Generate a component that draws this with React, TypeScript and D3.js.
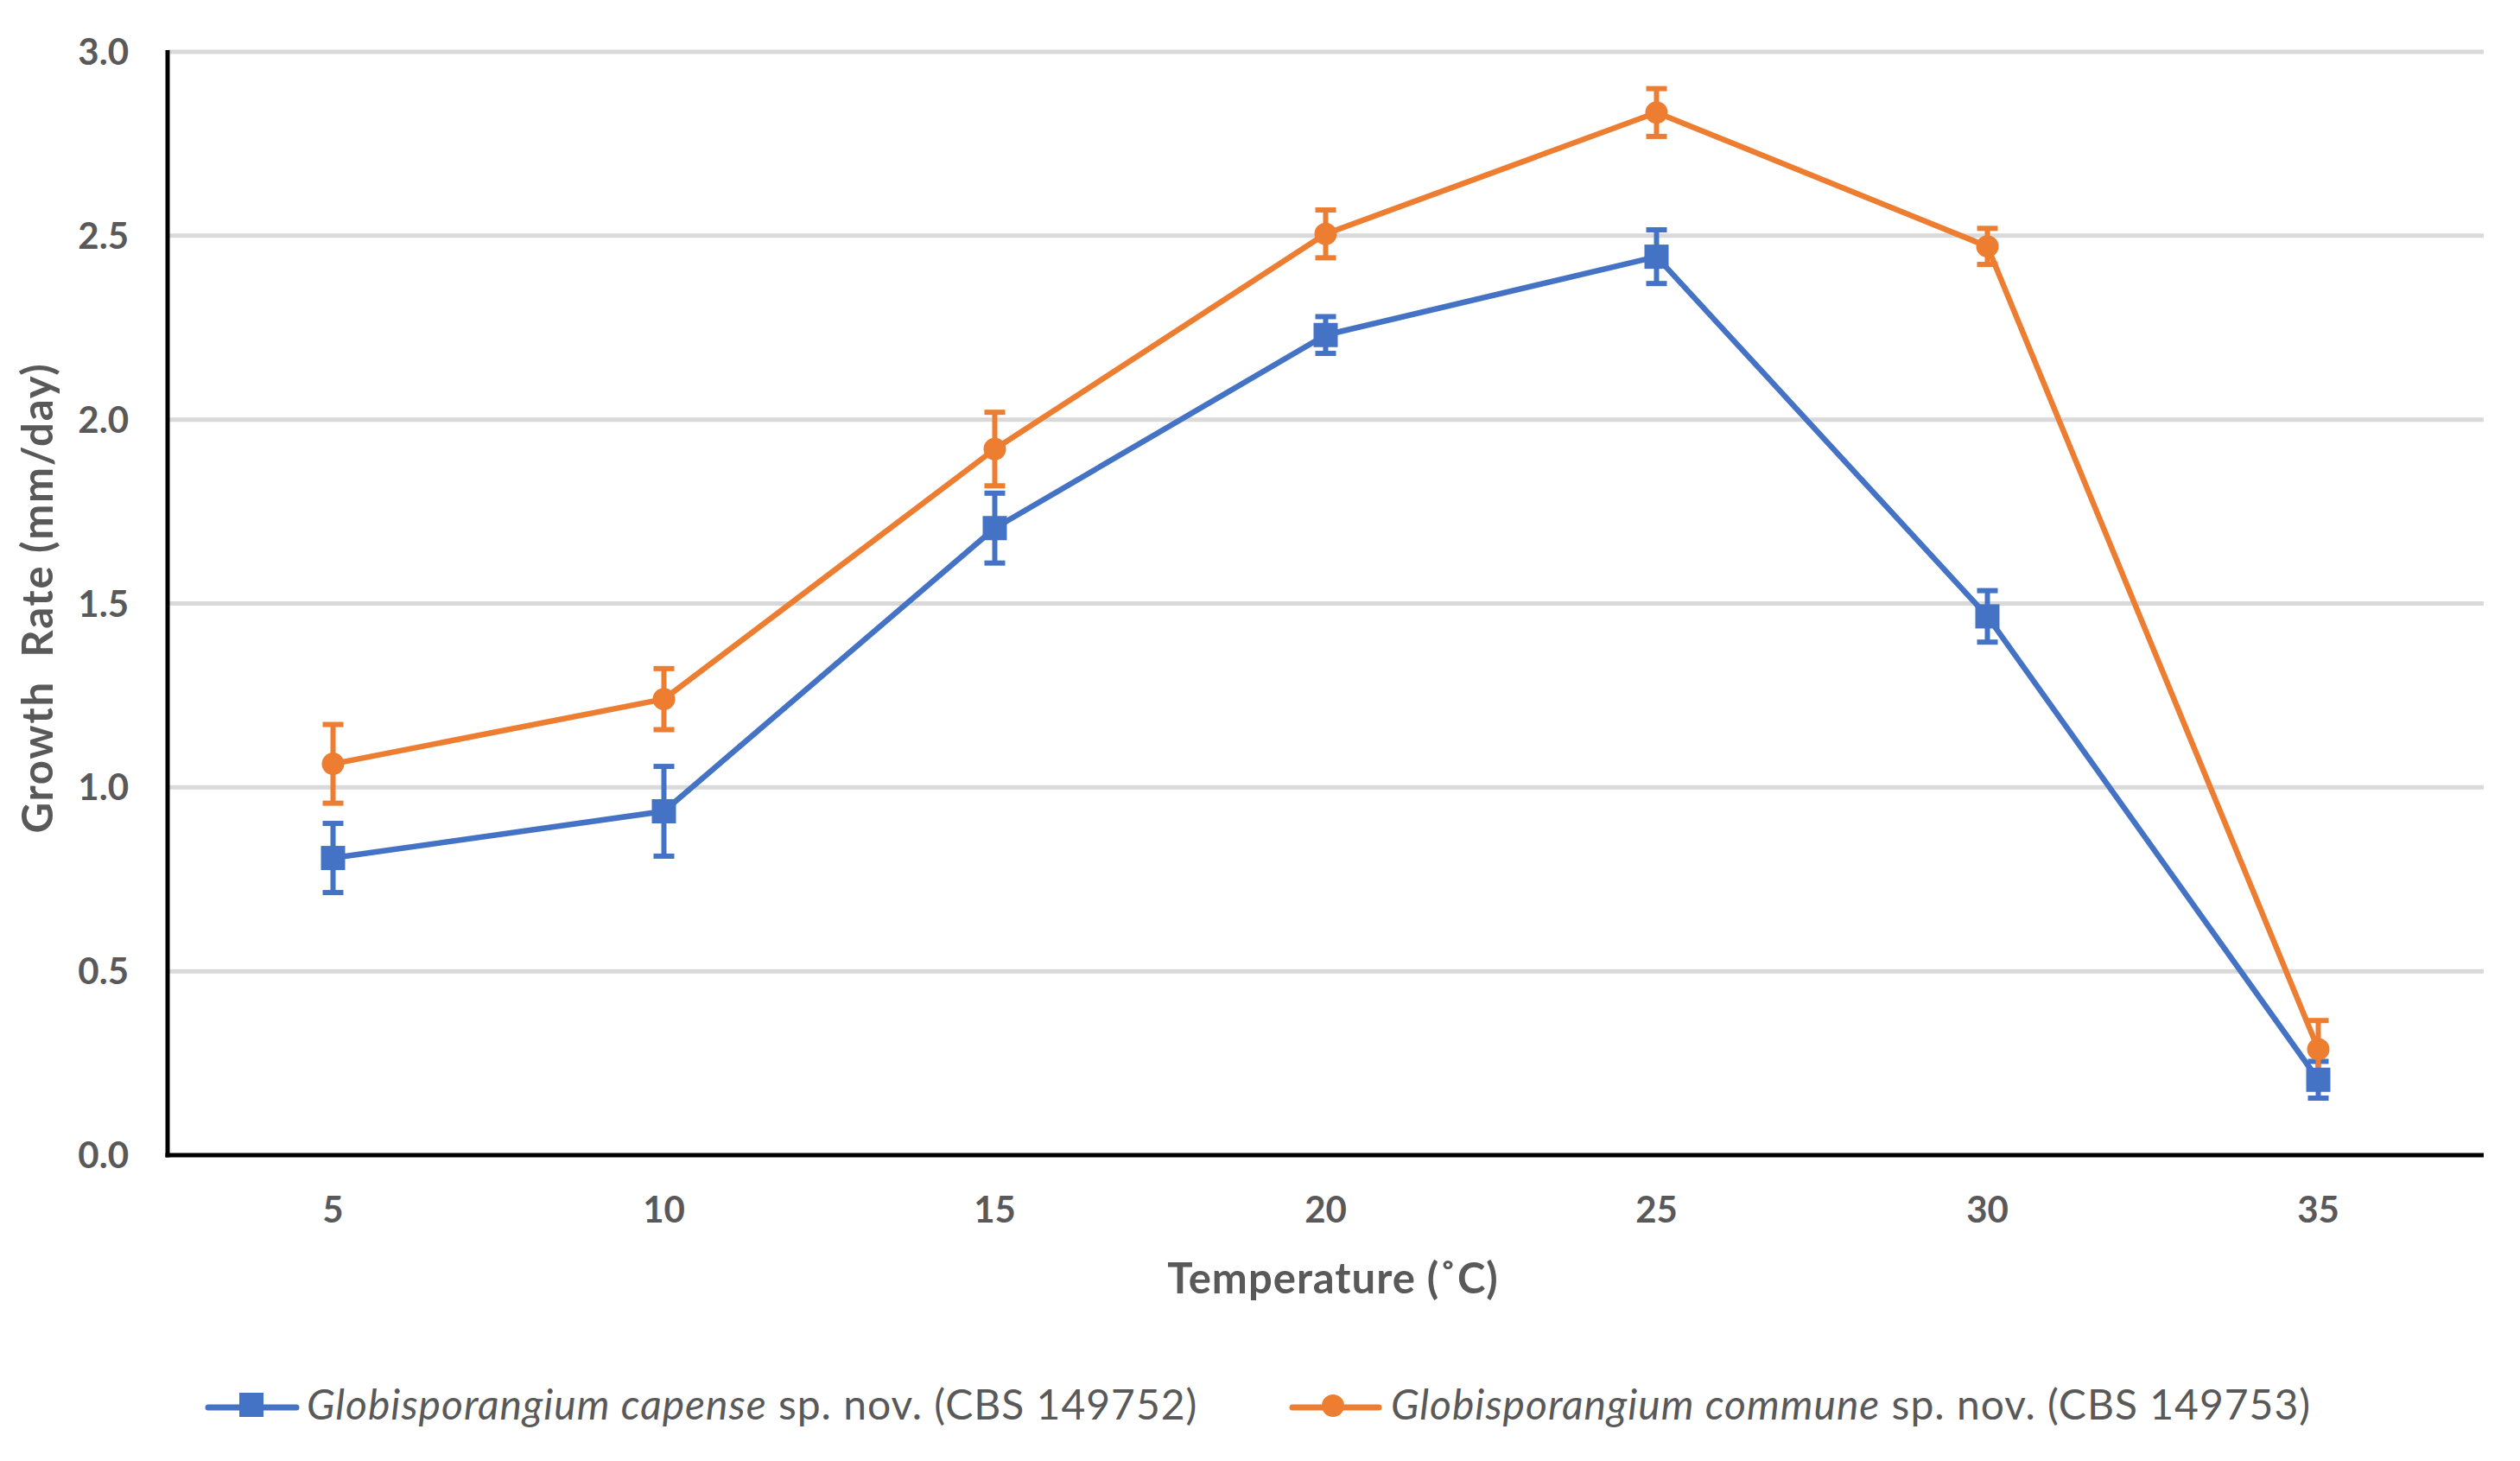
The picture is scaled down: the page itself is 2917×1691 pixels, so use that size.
import React from 'react';
import * as d3 from 'd3';

const temperatures = ['5', '10', '15', '20', '25', '30', '35'];
const capenseRate = [0.808, 0.935, 1.705, 2.23, 2.443, 1.465, 0.205];
const capenseErr = [0.094, 0.122, 0.095, 0.05, 0.073, 0.07, 0.05];
const communeRate = [1.064, 1.24, 1.92, 2.505, 2.835, 2.471, 0.288];
const communeErr = [0.107, 0.083, 0.1, 0.065, 0.065, 0.049, 0.078];
const yTicks = [0, 0.5, 1.0, 1.5, 2.0, 2.5, 3.0];

const BLUE = '#4472C4';
const ORANGE = '#ED7D31';
const GREY = '#595959';
const FONT = 'Lato, "Open Sans", sans-serif';

const W = 2917;
const H = 1691;
const left = 194;
const right = 2875;
const top = 60;
const bottom = 1337;

export default function App() {
  const x = d3.scaleBand<string>().domain(temperatures).range([left, right]);
  const y = d3.scaleLinear().domain([0, 3]).range([bottom, top]);
  const cx = (t: string) => (x(t) as number) + x.bandwidth() / 2;

  const line = d3
    .line<number>()
    .x((_, i) => cx(temperatures[i]))
    .y((d) => y(d));

  const series = [
    { name: 'capense', vals: capenseRate, err: capenseErr, color: BLUE },
    { name: 'commune', vals: communeRate, err: communeErr, color: ORANGE },
  ];

  const errBars = (s: typeof series[0]) =>
    s.vals.map((v, i) => {
      const xc = cx(temperatures[i]);
      const y1 = y(v + s.err[i]);
      const y2 = y(v - s.err[i]);
      return (
        <g key={s.name + 'e' + i} stroke={s.color} strokeWidth={6}>
          <line x1={xc} x2={xc} y1={y1} y2={y2} />
          <line x1={xc - 12} x2={xc + 12} y1={y1} y2={y1} />
          <line x1={xc - 12} x2={xc + 12} y1={y2} y2={y2} />
        </g>
      );
    });

  const squareMarker = (xc: number, yc: number, key: string, size = 28) => (
    <rect key={key} x={xc - size / 2} y={yc - size / 2} width={size} height={size} fill={BLUE} />
  );
  const circleMarker = (xc: number, yc: number, key: string, r = 13) => (
    <circle key={key} cx={xc} cy={yc} r={r} fill={ORANGE} />
  );

  return (
    <svg
      width={W}
      height={H}
      viewBox={`0 0 ${W} ${H}`}
      style={{ position: 'absolute', left: 0, top: 0, background: '#fff' }}
    >
      <rect x={0} y={0} width={W} height={H} fill="#fff" />
      {/* gridlines */}
      {yTicks
        .filter((t) => t > 0)
        .map((t) => (
          <line key={'g' + t} x1={left} x2={right} y1={y(t)} y2={y(t)} stroke="#D9D9D9" strokeWidth={5} />
        ))}
      {/* y tick labels */}
      {yTicks.map((t) => (
        <text
          key={'yt' + t}
          x={149}
          y={y(t)}
          dy="0.36em"
          textAnchor="end"
          fontFamily={FONT}
          fontWeight={700}
          fontSize={42}
          fill={GREY}
        >
          {d3.format('.1f')(t)}
        </text>
      ))}
      {/* x tick labels */}
      {temperatures.map((t) => (
        <text
          key={'xt' + t}
          x={cx(t)}
          y={1415}
          textAnchor="middle"
          fontFamily={FONT}
          fontWeight={700}
          fontSize={42}
          fill={GREY}
        >
          {t}
        </text>
      ))}
      {/* axes */}
      <line x1={left} x2={left} y1={top - 2} y2={bottom + 2.5} stroke="#000" strokeWidth={5} />
      <line x1={left - 2.5} x2={right} y1={bottom} y2={bottom} stroke="#000" strokeWidth={5} />
      {/* axis titles */}
      <text
        x={1543}
        y={1497}
        textAnchor="middle"
        fontFamily={FONT}
        fontWeight={700}
        fontSize={49}
        letterSpacing={1}
        fill={GREY}
      >
        Temperature (˚C)
      </text>
      <text
        transform={`translate(61, 692) rotate(-90)`}
        textAnchor="middle"
        fontFamily={FONT}
        fontWeight={700}
        fontSize={49}
        letterSpacing={1.8}
        fill={GREY}
        style={{ whiteSpace: 'pre' }}
      >
        {'Growth  Rate (mm/day)'}
      </text>
      {/* lines */}
      {series.map((s) => (
        <path
          key={s.name + 'line'}
          d={line(s.vals) as string}
          fill="none"
          stroke={s.color}
          strokeWidth={6.5}
          strokeLinejoin="round"
        />
      ))}
      {/* error bars */}
      {errBars(series[0])}
      {errBars(series[1])}
      {/* markers */}
      {communeRate.map((v, i) => circleMarker(cx(temperatures[i]), y(v), 'om' + i))}
      {capenseRate.map((v, i) => squareMarker(cx(temperatures[i]), y(v), 'bm' + i))}
      {/* legend */}
      <g>
        <line x1={241} x2={343} y1={1629} y2={1629} stroke={BLUE} strokeWidth={7} strokeLinecap="round" />
        {squareMarker(291, 1626, 'lgb')}
        <text x={355} y={1643} fontFamily={FONT} fontSize={48} letterSpacing={1} fill={GREY}>
          <tspan fontStyle="italic">Globisporangium capense</tspan>
          <tspan> sp. nov. (CBS 149752)</tspan>
        </text>
        <line x1={1496} x2={1596} y1={1629} y2={1629} stroke={ORANGE} strokeWidth={7} strokeLinecap="round" />
        {circleMarker(1543, 1627, 'lgo')}
        <text x={1610} y={1643} fontFamily={FONT} fontSize={48} letterSpacing={1} fill={GREY}>
          <tspan fontStyle="italic">Globisporangium commune</tspan>
          <tspan> sp. nov. (CBS 149753)</tspan>
        </text>
      </g>
    </svg>
  );
}
